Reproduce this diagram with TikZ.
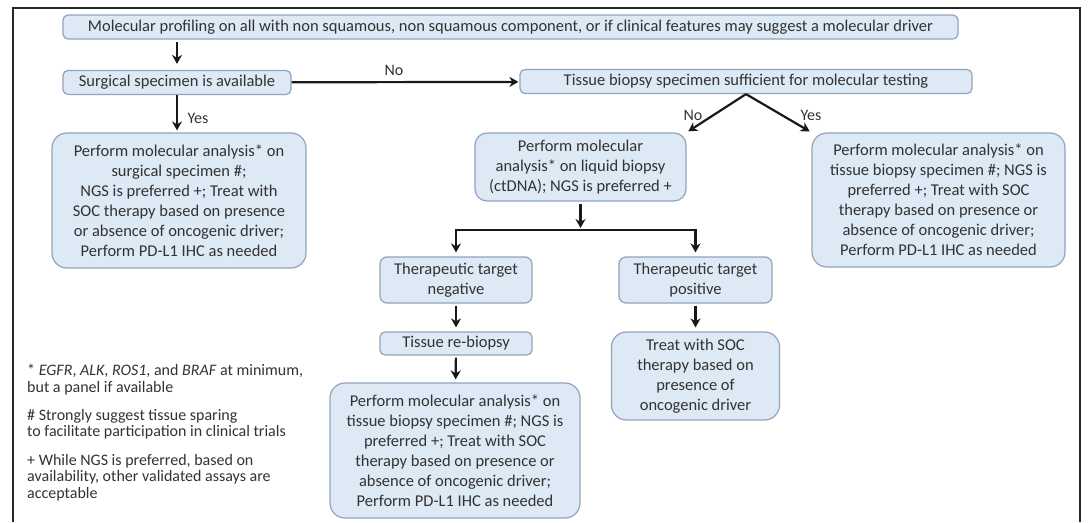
\documentclass[tikz,border=0pt]{standalone}
\usepackage{fontspec}
\setmainfont{Carlito}
\usepackage{tikz}
\usetikzlibrary{arrows.meta,positioning}
\definecolor{boxblue}{RGB}{222,233,246}
\definecolor{boxline}{RGB}{145,163,188}
\definecolor{txtgray}{RGB}{50,50,50}
\tikzset{
    flatbox/.style={
        draw=boxline,
        line width=1.2pt,
        fill=boxblue,
        rounded corners=5pt,
        text=txtgray,
        font=\fontsize{16.5}{20}\selectfont,
        align=center,
        inner sep=0pt
    },
    % big boxes with the long texts
    roundbox/.style={
        flatbox,
        rounded corners=15pt
    },
    blackarrow/.style={
        line width=2.2pt,
        black!90,
        -{Stealth[length=9pt, width=10pt]}
    },
    answer/.style={text=txtgray, font=\fontsize{16}{18}\selectfont},
    footnote/.style={text=txtgray, font=\fontsize{16}{16.5}\selectfont, align=left, inner sep=0pt, anchor=north west}
}

\begin{document}
\begin{tikzpicture}[x=1pt, y=-1pt]
        \useasboundingbox (0,0) rectangle (1091,522);
        \draw[line width=1.8pt, black!85] (13,522) -- (13,8) -- (1080,8) -- (1080,522);

        \node[flatbox, minimum width=895pt, minimum height=24pt] (profiling) at (510.5,27)
            {Molecular profiling on all with non squamous, non squamous component, or if clinical features may suggest a molecular driver};
        \node[flatbox, minimum width=228pt, minimum height=24pt] (surgical) at (177,82.5)
            {Surgical specimen is available};
        \node[flatbox, minimum width=452pt, minimum height=24pt] (sufficient) at (746,81.5)
            {Tissue biopsy specimen sufficient for molecular testing};

        \node[roundbox, minimum width=254pt, minimum height=135pt] (surgres) at (179,200.5)
            {Perform molecular analysis* on\\ surgical specimen \#;\\ NGS is preferred +; Treat with\\ SOC therapy based on presence\\ or absence of oncogenic driver;\\ Perform PD-L1 IHC as needed};
        \node[roundbox, rounded corners=12pt, minimum width=211pt, minimum height=68pt] (liquid) at (580.5,167)
            {Perform molecular\\ analysis* on liquid biopsy\\ (ctDNA); NGS is preferred +};
        \node[roundbox, minimum width=253pt, minimum height=134pt] (tissueres) at (938.5,200)
            {Perform molecular analysis* on\\ tissue biopsy specimen \#; NGS is\\ preferred +; Treat with SOC\\ therapy based on presence or\\ absence of oncogenic driver;\\ Perform PD-L1 IHC as needed};

        \node[flatbox, rounded corners=7pt, minimum width=152pt, minimum height=46pt] (negative) at (456,280)
            {Therapeutic target\\ negative};
        \node[flatbox, rounded corners=7pt, minimum width=153pt, minimum height=46pt] (positive) at (695.5,280)
            {Therapeutic target\\ positive};
        \node[flatbox, minimum width=152pt, minimum height=23pt] (rebiopsy) at (456,343.5)
            {Tissue re-biopsy};
        \node[roundbox, minimum width=250pt, minimum height=135pt] (rebiores) at (455,450.5)
            {Perform molecular analysis* on\\ tissue biopsy specimen \#; NGS is\\ preferred +; Treat with SOC\\ therapy based on presence or\\ absence of oncogenic driver;\\ Perform PD-L1 IHC as needed};
        \node[roundbox, minimum width=168pt, minimum height=88pt] (treat) at (695.5,376)
            {Treat with SOC\\ therapy based on\\ presence of\\ oncogenic driver};

        \coordinate (split) at (580.5,230);

        \draw[blackarrow, shorten <=2pt, shorten >=6pt] (profiling.south -| surgical) -- (surgical);
        \draw[blackarrow, shorten >=1pt] (surgical) -- (sufficient);
        \draw[blackarrow, shorten >=2pt] (surgical) -- (surgical |- surgres.north);
        \draw[blackarrow, shorten >=2pt] (sufficient.south) -- (liquid.north east);
        \draw[blackarrow, shorten >=2pt] (sufficient.south) -- (tissueres.north west);
        \draw[blackarrow, shorten <=2pt, shorten >=2pt] (liquid) -- (split);
        \draw[blackarrow, shorten >=4pt] (split) -| (negative);
        \draw[blackarrow, shorten >=4pt] (split) -| (positive);
        \draw[blackarrow, shorten <=2pt, shorten >=4pt] (negative) -- (rebiopsy);
        \draw[blackarrow, shorten <=2pt, shorten >=3pt] (rebiopsy) -- (rebiores);
        \draw[blackarrow, shorten <=2pt, shorten >=4pt] (positive) -- (treat);

        \node[answer] (nolabel) at (394,70) {No};
        \node[answer] (yeslabel) at (198,118) {Yes};
        \node[answer] (nolabel2) at (693,115) {No};
        \node[answer] (yeslabel2) at (811,115) {Yes};

        \node[footnote] (note1) at (27,364)
            {* \textit{EGFR}, \textit{ALK}, \textit{ROS1}, and \textit{BRAF} at minimum,\\ but a panel if available};
        \node[footnote] (note2) at (27,409)
            {\# Strongly suggest tissue sparing\\ to facilitate participation in clinical trials};
        \node[footnote] (note3) at (27,454)
            {+ While NGS is preferred, based on\\ availability, other validated assays are\\ acceptable};
\end{tikzpicture}
\end{document}
